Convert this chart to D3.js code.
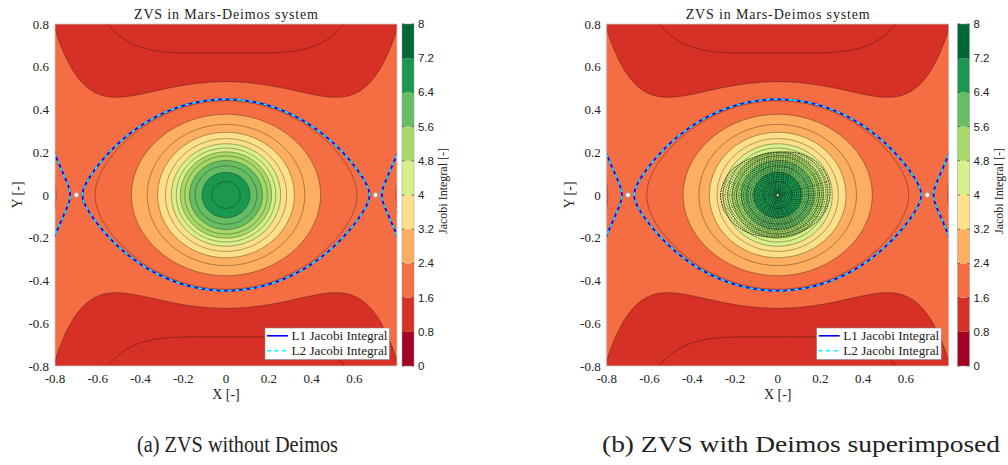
<!DOCTYPE html>
<html>
<head>
<meta charset="utf-8">
<script src="https://cdn.jsdelivr.net/npm/d3@7"></script>
<style>
  body { margin: 0; background: #fff; }
  svg { display: block; }
</style>
</head>
<body>
<svg id="fig" width="1008" height="465"></svg>
<script>
// ---- Hill-type model of the Mars–Deimos neighbourhood (normalised units) ----
const deimosGM = 1.05;        // scaled gravitational parameter of Deimos
const deimosRadius = 0.213;   // radius of the equivalent homogeneous body
const axisRatio = 0.924;      // squeeze of the body potential along X (long axis)
const tidalCoef = 1.593;      // tidal + centrifugal coefficient along X
const jacobiOffset = -0.381;  // additive constant of the Jacobi integral

// ---- contour levels, colour classes, ticks ----
const contourLevels = [0.8, 1.2, 1.6, 2.0, 2.4, 2.8, 3.2, 3.6, 4.0, 4.4, 4.8, 5.2, 5.6, 6.0, 6.4, 6.8];
const colorBreaks = [0, 0.8, 1.6, 2.4, 3.2, 4.0, 4.8, 5.6, 6.4, 7.2, 8.0];
const colorTickLabels = ["0", "0.8", "1.6", "2.4", "3.2", "4", "4.8", "5.6", "6.4", "7.2", "8"];
const bandColors = ["#a50026", "#d73027", "#f46d43", "#fdae61", "#fee08b",
                    "#d9ef8b", "#a6d96a", "#66bd63", "#1a9850", "#006837"];
const xTickValues = [-0.8, -0.6, -0.4, -0.2, 0, 0.2, 0.4, 0.6];
const yTickValues = [-0.8, -0.6, -0.4, -0.2, 0, 0.2, 0.4, 0.6, 0.8];
const legendLabels = ["L1 Jacobi Integral", "L2 Jacobi Integral"];
const plotTitle = "ZVS in Mars-Deimos system";
const panelCaptions = ["(a) ZVS without Deimos", "(b) ZVS with Deimos superimposed"];

// ---- Deimos silhouette (polar samples, degrees / normalised radius) ----
const deimosAngles = [0, 15, 30, 45, 60, 75, 90, 105, 120, 135, 150, 165,
                      180, 195, 210, 225, 240, 255, 270, 285, 300, 315, 330, 345];
const deimosRadii = [0.245, 0.247, 0.245, 0.235, 0.222, 0.208, 0.200, 0.200, 0.207, 0.222, 0.242, 0.258,
                     0.268, 0.262, 0.248, 0.232, 0.215, 0.202, 0.197, 0.197, 0.203, 0.213, 0.226, 0.238];
// relative sizes of the nested rings of the shape-model wireframe
const deimosShells = [0.02, 0.045, 0.07, 0.1, 0.13, 0.165, 0.2, 0.24, 0.28, 0.32, 0.36, 0.4, 0.44,
                      0.48, 0.52, 0.56, 0.6, 0.64, 0.68, 0.72, 0.76, 0.8, 0.84, 0.88, 0.92, 0.96, 1.0];

const SERIF = "'Liberation Serif', 'Times New Roman', serif";
const SANS = "'Liberation Sans', Arial, sans-serif";

// Jacobi integral in the rotating frame
function jacobi(x, y) {
  const s = Math.sqrt(axisRatio * x * x + y * y);
  const R = deimosRadius;
  const pot = s >= R ? 1 / s : (3 * R * R - s * s) / (2 * R * R * R);
  return tidalCoef * x * x + deimosGM * pot + jacobiOffset;
}

// sampled field over a slightly padded square (edges fall outside the clip)
const step = 0.004, g0 = -0.84, n = 421;
const field = new Float64Array(n * n);
for (let j = 0; j < n; j++)
  for (let i = 0; i < n; i++)
    field[j * n + i] = jacobi(g0 + i * step, g0 + j * step);

// Jacobi value at the collinear libration point (saddle on the X axis)
let xL = 0.5, CL = Infinity;
for (let x = 0.5; x <= 0.8; x += 0.0001) {
  const c = jacobi(x, 0);
  if (c < CL) { CL = c; xL = x; }
}
const lagrangeLevel = CL + 0.004;
const lagrangeX = [-xL, xL];

const contourGen = d3.contours().size([n, n]);
const bands = contourGen.thresholds(contourLevels)(field);
const lagrangeCurve = contourGen.thresholds([lagrangeLevel])(field);

const svg = d3.select("#fig");
const plotSize = 342, plotTop = 24;

function txt(sel, family, size) {
  return sel.append("text").attr("font-family", family).attr("font-size", size).attr("fill", "#222");
}

function drawPanel(k, left, cbLeft, withDeimos) {
  const x = d3.scaleLinear().domain([-0.8, 0.8]).range([left, left + plotSize]);
  const y = d3.scaleLinear().domain([-0.8, 0.8]).range([plotTop + plotSize, plotTop]);
  const g = svg.append("g");

  const clipId = "clip" + k;
  g.append("clipPath").attr("id", clipId).append("rect")
    .attr("x", left).attr("y", plotTop).attr("width", plotSize).attr("height", plotSize);

  const proj = d3.geoTransform({
    point(gx, gy) {
      this.stream.point(x(g0 + (gx - 0.5) * step), y(g0 + (gy - 0.5) * step));
    }
  });
  const path = d3.geoPath(proj);

  const plot = g.append("g").attr("clip-path", `url(#${clipId})`);

  // filled bands
  plot.append("g").selectAll("path").data(bands).join("path")
    .attr("d", path)
    .attr("fill", d => bandColors[Math.min(9, Math.floor(d.value / 0.8 + 1e-9))])
    .attr("stroke", "none");

  // iso-lines
  plot.append("g").selectAll("path").data(bands.filter(d => d.value > 0.8)).join("path")
    .attr("d", path)
    .attr("fill", "none")
    .attr("stroke", "#1a1208")
    .attr("stroke-opacity", 0.6)
    .attr("stroke-width", 0.6);

  // zero-velocity curve through L1 / L2
  plot.append("path").datum(lagrangeCurve[0]).attr("d", path)
    .attr("fill", "none").attr("stroke", "#0000ff").attr("stroke-width", 1.7);
  plot.append("path").datum(lagrangeCurve[0]).attr("d", path)
    .attr("fill", "none").attr("stroke", "#00ffff").attr("stroke-width", 1.5)
    .attr("stroke-dasharray", "4 3.5");

  // Deimos wireframe
  if (withDeimos) {
    const outline = deimosAngles.map((a, i) => [a * Math.PI / 180, deimosRadii[i]]);
    const ring = d3.line().curve(d3.curveCardinalClosed.tension(0.3));
    const dg = plot.append("g").attr("fill", "none").attr("stroke", "#000");
    deimosShells.forEach(f => {
      dg.append("path").attr("d", ring(outline.map(([a, r]) =>
        [x(f * r * Math.cos(a)), y(f * r * Math.sin(a))])))
        .attr("stroke-width", f === 1 ? 0.8 : 0.6)
        .attr("stroke-dasharray", f === 1 ? "2 0.8" : "1.4 1");
    });
    outline.forEach(([a, r]) => {
      dg.append("line")
        .attr("x1", x(0)).attr("y1", y(0))
        .attr("x2", x(r * Math.cos(a))).attr("y2", y(r * Math.sin(a)))
        .attr("stroke-width", 0.4).attr("stroke-opacity", 0.55)
        .attr("stroke-dasharray", "1.4 1");
    });
    plot.append("circle").attr("cx", x(0)).attr("cy", y(0)).attr("r", 1.5)
      .attr("fill", "#fff").attr("stroke", "#000").attr("stroke-width", 0.6);
  }

  // libration points
  plot.append("g").selectAll("circle").data(lagrangeX).join("circle")
    .attr("cx", d => x(d)).attr("cy", y(0)).attr("r", 2.4)
    .attr("fill", "#fff").attr("stroke", "#777").attr("stroke-width", 0.5);

  // frame
  g.append("rect").attr("x", left).attr("y", plotTop).attr("width", plotSize).attr("height", plotSize)
    .attr("fill", "none").attr("stroke", "#c9c9c9").attr("stroke-width", 0.8);

  // tick labels
  const fmt = d => String(d);
  xTickValues.forEach(v => {
    txt(g, SERIF, 13).attr("x", x(v)).attr("y", plotTop + plotSize + 17)
      .attr("text-anchor", "middle").text(fmt(v));
  });
  yTickValues.forEach(v => {
    txt(g, SERIF, 13).attr("x", left - 6).attr("y", y(v) + 4.5)
      .attr("text-anchor", "end").text(fmt(v));
  });

  // axis labels and title
  txt(g, SERIF, 14).attr("x", x(0)).attr("y", plotTop + plotSize + 33)
    .attr("text-anchor", "middle").text("X [-]");
  txt(g, SERIF, 14).attr("transform", `translate(${left - 38},${y(0)}) rotate(-90)`)
    .attr("text-anchor", "middle").attr("dy", "0.35em").text("Y [-]");
  txt(g, SERIF, 14).attr("x", x(0)).attr("y", 18.5).attr("text-anchor", "middle")
    .attr("textLength", 184).attr("lengthAdjust", "spacing").text(plotTitle);

  // legend
  const lx = left + 210, ly = plotTop + 304;
  const lg = g.append("g");
  lg.append("rect").attr("x", lx).attr("y", ly).attr("width", 124.5).attr("height", 31.5)
    .attr("fill", "#fff").attr("stroke", "#8a8a8a").attr("stroke-width", 0.6);
  legendLabels.forEach((lab, i) => {
    const yy = ly + 7.8 + i * 15;
    lg.append("line").attr("x1", lx + 2).attr("x2", lx + 23).attr("y1", yy).attr("y2", yy)
      .attr("stroke", i === 0 ? "#0000ff" : "#00ffff").attr("stroke-width", 1.6)
      .attr("stroke-dasharray", i === 0 ? null : "4 3.5");
    txt(lg, SERIF, 12.5).attr("x", lx + 26.5).attr("y", yy + 4.2)
      .attr("textLength", 96).attr("lengthAdjust", "spacingAndGlyphs").text(lab);
  });

  // colour bar
  const cy = d3.scaleLinear().domain([0, 8]).range([plotTop + plotSize, plotTop]);
  const cbW = 12;
  const cb = g.append("g");
  cb.selectAll("rect.band").data(bandColors).join("rect").attr("class", "band")
    .attr("x", cbLeft).attr("width", cbW)
    .attr("y", (d, i) => cy(colorBreaks[i + 1]))
    .attr("height", (d, i) => cy(colorBreaks[i]) - cy(colorBreaks[i + 1]))
    .attr("fill", d => d);
  cb.append("rect").attr("x", cbLeft).attr("y", plotTop).attr("width", cbW).attr("height", plotSize)
    .attr("fill", "none").attr("stroke", "#9a9a9a").attr("stroke-width", 0.5);
  cb.selectAll("path.tick").data(colorBreaks).join("path").attr("class", "tick")
    .attr("d", d => `M${cbLeft},${cy(d)}h2.5M${cbLeft + cbW},${cy(d)}h-2.5`)
    .attr("stroke", "#333").attr("stroke-width", 0.6);
  colorBreaks.forEach((v, i) => {
    txt(cb, SANS, 11.5).attr("x", cbLeft + cbW + 4).attr("y", cy(v) + 4).text(colorTickLabels[i]);
  });
  txt(g, SERIF, 12).attr("transform", `translate(${cbLeft + 41},${cy(4) - 4}) rotate(-90)`)
    .attr("text-anchor", "middle").attr("dy", "0.35em").text("Jacobi Integral [-]");

  // sub-figure caption
  txt(svg, SERIF, 24).attr("x", k === 0 ? 237.5 : 801).attr("y", 452).attr("text-anchor", "middle")
    .attr("textLength", k === 0 ? 201 : 398).attr("lengthAdjust", "spacingAndGlyphs")
    .text(panelCaptions[k]);
}

drawPanel(0, 55, 402, false);
drawPanel(1, 606.7, 957.5, true);
</script>
</body>
</html>
